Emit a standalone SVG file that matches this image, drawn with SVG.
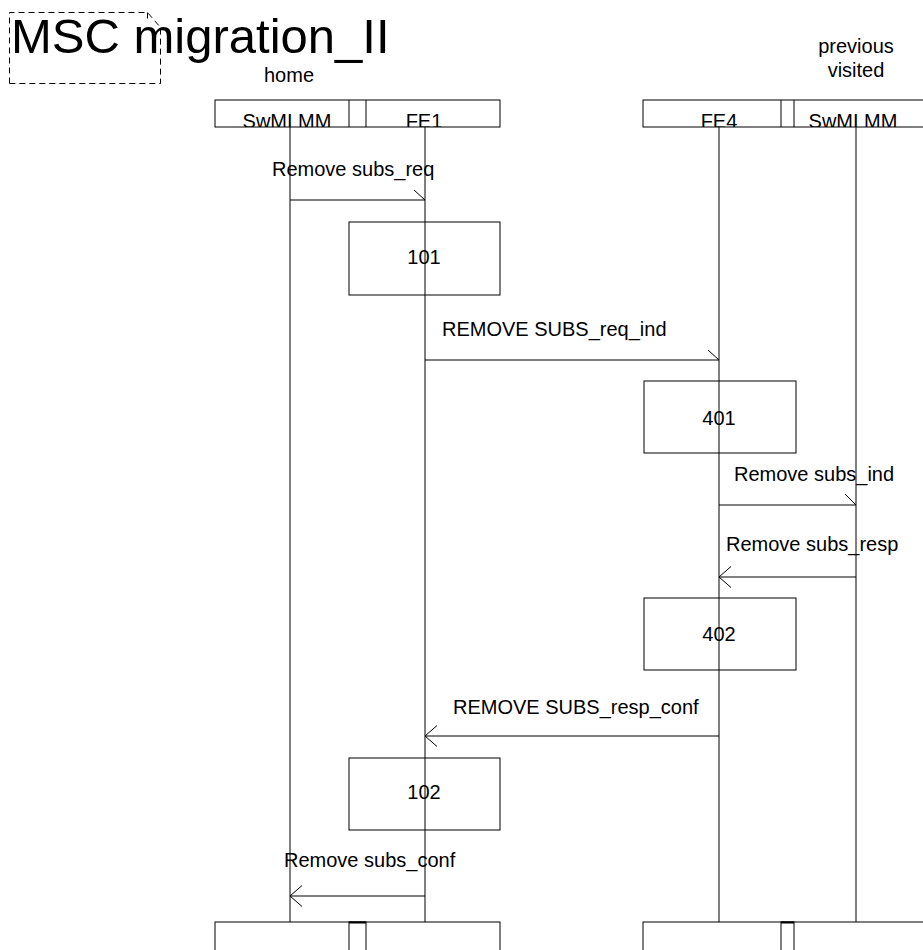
<svg xmlns="http://www.w3.org/2000/svg" width="923" height="950" viewBox="0 0 923 950">
<style>
text{font-family:"Liberation Sans",Arial,sans-serif;font-size:20px;fill:#000}
.ln{stroke:#000;stroke-width:1;fill:none}
.bx{stroke:#000;stroke-width:1;fill:#fff}
.mid{text-anchor:middle}
</style>
<defs>
<clipPath id="cL"><rect x="215" y="100" width="285" height="27"/></clipPath>
<clipPath id="cR"><rect x="643" y="100" width="285" height="27"/></clipPath>
</defs>
<rect width="923" height="950" fill="#fff"/>
<g id="title">
<path class="ln" d="M9.5,83.5 L9.5,12.5 L147.5,12.5 L160.5,27.5 L160.5,83.5 Z M147.5,12.5 L147.5,20" stroke-dasharray="6,4"/>
<text x="11" y="53" style="font-size:49px">MSC migration_II</text>
</g>
<g id="home-label"><text class="mid" x="289" y="82">home</text></g>
<g id="visited-label"><text class="mid" x="856" y="53">previous</text><text class="mid" x="856" y="77">visited</text></g>
<g id="lifelines">
<line class="ln" x1="290" y1="127" x2="290" y2="922"/>
<line class="ln" x1="425" y1="127" x2="425" y2="922"/>
<line class="ln" x1="719" y1="127" x2="719" y2="922"/>
<line class="ln" x1="856" y1="127" x2="856" y2="922"/>
</g>
<g id="home-head">
<rect class="bx" x="215" y="100" width="285" height="27"/>
<line class="ln" x1="349" y1="100" x2="349" y2="127"/>
<line class="ln" x1="366" y1="100" x2="366" y2="127"/>
<g clip-path="url(#cL)"><text class="mid" x="287" y="128">SwMI MM</text><text class="mid" x="424" y="128">FE1</text></g>
</g>
<g id="visited-head">
<rect class="bx" x="643" y="100" width="285" height="27"/>
<line class="ln" x1="781" y1="100" x2="781" y2="127"/>
<line class="ln" x1="794" y1="100" x2="794" y2="127"/>
<g clip-path="url(#cR)"><text class="mid" x="719" y="128">FE4</text><text class="mid" x="853" y="128">SwMI MM</text></g>
</g>
<g id="home-foot">
<rect class="bx" x="215" y="922" width="285" height="40"/>
<rect class="bx" x="349" y="922" width="17" height="40"/>
<line x1="349" y1="922.5" x2="366" y2="922.5" stroke="#000" stroke-width="2"/>
</g>
<g id="visited-foot">
<rect class="bx" x="643" y="922" width="285" height="40"/>
<rect class="bx" x="781" y="922" width="13" height="40"/>
<line x1="781" y1="922.5" x2="794" y2="922.5" stroke="#000" stroke-width="2"/>
</g>
<g id="connectors">
<path class="ln" d="M290,200 H425 M414,190 L425,200"/>
<path class="ln" d="M425,360 H719 M708,350 L719,360"/>
<path class="ln" d="M719,505 H856 M845,494 L856,505"/>
<path class="ln" d="M856,577 H719 M731,566.5 L719,577 L731,587.5"/>
<path class="ln" d="M719,736 H425 M437,725.5 L425,736 L437,746.5"/>
<path class="ln" d="M425,896 H290 M302,885.5 L290,896 L302,906.5"/>
</g>
<g id="labels">
<text x="272" y="176">Remove subs_req</text>
<text x="442" y="336">REMOVE SUBS_req_ind</text>
<text x="734" y="481">Remove subs_ind</text>
<text x="726" y="551">Remove subs_resp</text>
<text x="453" y="714">REMOVE SUBS_resp_conf</text>
<text x="284" y="867">Remove subs_conf</text>
</g>
<g id="n101"><rect class="ln" x="349" y="222" width="151" height="73"/><text class="mid" x="424" y="264">101</text></g>
<g id="n401"><rect class="ln" x="644" y="381" width="152" height="72"/><text class="mid" x="719" y="425">401</text></g>
<g id="n402"><rect class="ln" x="644" y="598" width="152" height="72"/><text class="mid" x="719" y="641">402</text></g>
<g id="n102"><rect class="ln" x="349" y="758" width="151" height="72"/><text class="mid" x="424" y="799">102</text></g>
</svg>
